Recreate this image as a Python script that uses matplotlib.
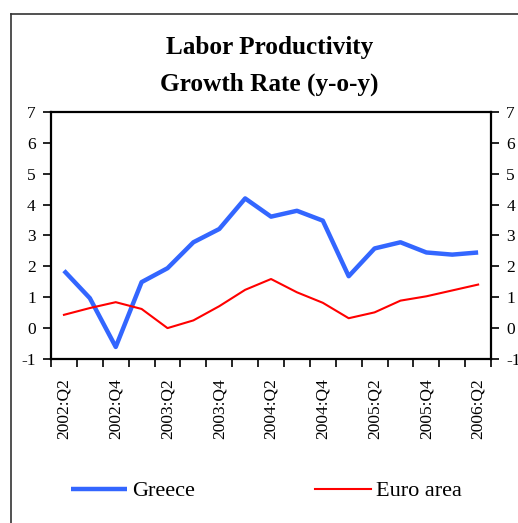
import matplotlib.pyplot as plt
from matplotlib.lines import Line2D

quarters = ['2002:Q2', '2002:Q3', '2002:Q4', '2003:Q1', '2003:Q2', '2003:Q3',
            '2003:Q4', '2004:Q1', '2004:Q2', '2004:Q3', '2004:Q4', '2005:Q1',
            '2005:Q2', '2005:Q3', '2005:Q4', '2006:Q1', '2006:Q2']
greece = [1.86, 0.97, -0.61, 1.49, 1.94, 2.78, 3.21, 4.20, 3.61, 3.80, 3.48,
          1.68, 2.58, 2.78, 2.45, 2.38, 2.45]
euro_area = [0.43, 0.65, 0.84, 0.62, 0.00, 0.25, 0.71, 1.24, 1.59, 1.16, 0.82,
             0.32, 0.51, 0.89, 1.03, 1.22, 1.41]
y_ticks = [-1, 0, 1, 2, 3, 4, 5, 6, 7]

plt.rcParams['font.family'] = ['Liberation Serif', 'DejaVu Serif']
plt.rcParams['axes.unicode_minus'] = False

fig = plt.figure(figsize=(5.18, 5.23), dpi=100)
ax = fig.add_axes([0.0985, 0.3136, 0.8495, 0.4723])

x = list(range(len(quarters)))
g_line, = ax.plot(x, greece, color='#3366ff', lw=3.2, solid_capstyle='butt')
e_line, = ax.plot(x, euro_area, color='#ff0000', lw=1.5)

ax.set_xlim(-0.5, len(quarters) - 0.5)
ax.set_ylim(-1, 7)

# tick marks on category boundaries, labels on every second quarter
ax.set_xticks([i - 0.5 for i in range(len(quarters) + 1)])
ax.set_xticklabels([])
ax.set_xticks(x[::2], minor=True)
ax.set_xticklabels(quarters[::2], minor=True, rotation=90, fontsize=12.5)
ax.tick_params(axis='x', which='major', direction='out', length=6, width=1.2)
ax.tick_params(axis='x', which='minor', length=0, pad=14)

# same scale shown on both sides
ax.set_yticks(y_ticks)
ax.tick_params(axis='y', direction='out', length=6, width=1.2, labelsize=12.5,
               left=True, right=True, labelleft=True, labelright=True, pad=5)

for s in ax.spines.values():
    s.set_linewidth(1.6)

fig.text(0.52, 0.91, 'Labor Productivity', ha='center', va='center',
         fontsize=18.2, fontweight='bold')
fig.text(0.52, 0.839, 'Growth Rate (y-o-y)', ha='center', va='center',
         fontsize=18.2, fontweight='bold')

fig.legend([g_line, e_line], ['Greece', 'Euro area'], loc='center',
           bbox_to_anchor=(0.515, 0.061), ncol=2, frameon=False, fontsize=16,
           handlelength=2.5, handletextpad=0.25, columnspacing=5.4)

# outer frame along the top and left edges
fig.add_artist(Line2D([0.0212, 1.0], [0.973, 0.973], transform=fig.transFigure,
                      color='#333333', lw=1.2))
fig.add_artist(Line2D([0.0212, 0.0212], [0.0, 0.973], transform=fig.transFigure,
                      color='#333333', lw=1.2))

fig.savefig('out.png', dpi=100)
